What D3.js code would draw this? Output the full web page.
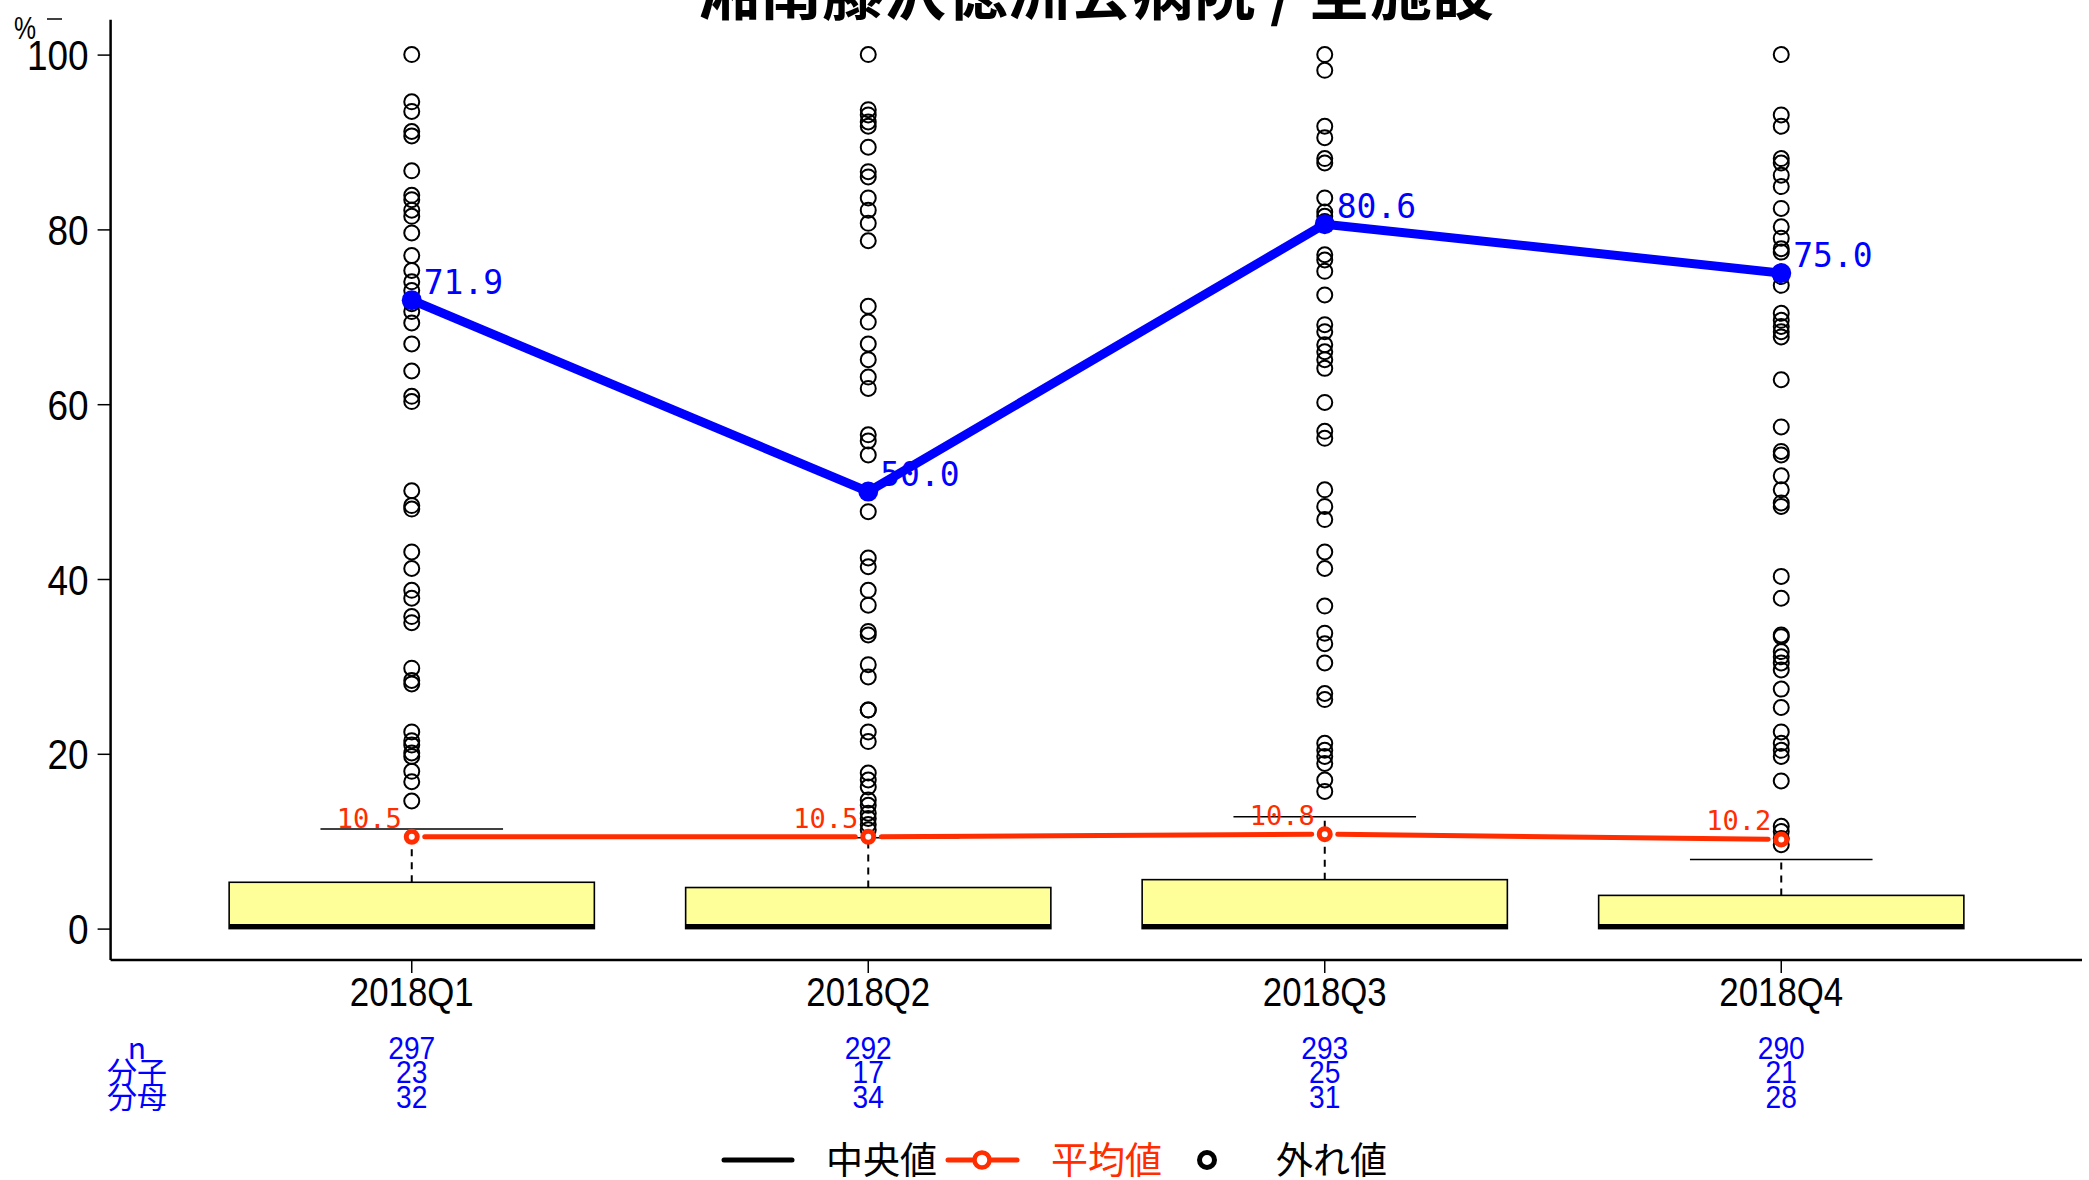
<!DOCTYPE html>
<html><head><meta charset="utf-8">
<script src="https://cdn.jsdelivr.net/npm/d3@7"></script>
<style>body{margin:0;background:#fff}svg{display:block}</style></head>
<body>
<script>
const titleText = "湘南藤沢徳洲会病院 / 全施設";
const categories = ["2018Q1", "2018Q2", "2018Q3", "2018Q4"];
const rateValues = [71.9, 50.0, 80.6, 75.0];
const meanValues = [10.5, 10.5, 10.8, 10.2];
const boxLower = [0, 0, 0, 0];
const boxMedian = [0, 0, 0, 0];
const boxUpper = [5.3, 4.7, 5.6, 3.8];
const whiskerHigh = [11.4, 10.4, 12.8, 7.9];
const outliersQ1 = [100, 94.6, 93.5, 91.2, 90.7, 86.7, 83.9, 83.4, 82.2, 81.5, 79.6, 77.0, 75.3, 74.0, 73.0, 71.5, 70.6, 69.3, 66.9, 63.8, 60.9, 60.3, 50.1, 48.4, 48.0, 43.1, 41.2, 38.7, 37.8, 35.7, 35.0, 29.8, 28.4, 28.0, 22.5, 21.5, 21.0, 20.1, 19.7, 18.0, 16.8, 14.6];
const outliersQ2 = [100, 93.7, 93.1, 92.3, 91.8, 89.4, 86.6, 86.0, 83.6, 82.2, 80.7, 78.7, 71.2, 69.4, 66.9, 65.1, 63.1, 61.8, 56.5, 55.8, 54.2, 47.7, 42.4, 41.4, 38.7, 37.0, 34.0, 33.6, 30.2, 28.8, 25.0, 25.0, 22.5, 21.4, 17.8, 17.0, 16.2, 14.7, 14.1, 13.2, 12.6, 11.9, 11.3];
const outliersQ3 = [100, 98.2, 91.8, 90.5, 88.1, 87.6, 83.6, 82.0, 81.5, 80.9, 77.1, 76.5, 75.2, 72.5, 69.1, 68.3, 66.8, 66.0, 65.1, 64.1, 60.2, 56.9, 56.1, 50.2, 48.3, 46.8, 43.1, 41.2, 36.9, 33.8, 32.6, 30.4, 26.9, 26.2, 21.2, 20.4, 19.7, 18.9, 17.0, 15.7];
const outliersQ4 = [100, 93.1, 91.8, 88.1, 87.6, 86.2, 84.9, 82.4, 80.3, 79.0, 77.8, 77.4, 74.6, 73.6, 70.4, 69.6, 68.9, 68.3, 67.7, 62.8, 57.4, 54.6, 54.2, 51.8, 50.2, 48.7, 48.3, 40.3, 37.8, 33.6, 33.4, 31.7, 31.1, 30.4, 29.6, 27.4, 25.3, 22.5, 21.2, 20.4, 19.7, 16.9, 11.7, 11.1, 10.3, 9.6];
const outlierSets = [outliersQ1, outliersQ2, outliersQ3, outliersQ4];
const nValues = [297, 292, 293, 290];
const numeratorValues = [23, 17, 25, 21];
const denominatorValues = [32, 34, 31, 28];
const rowLabels = ["n", "分子", "分母"];
const yTicks = [0, 20, 40, 60, 80, 100];
const legendLabels = ["中央値", "平均値", "外れ値"];

const W = 2089, H = 1180;
const BLUE = "#0000ff", RED = "#ff2d00", BOXFILL = "#ffff99";
const SANS = "'Liberation Sans'";
const svg = d3.select("body").append("svg").attr("width", W).attr("height", H);

const x = d3.scaleBand().domain(categories).range([183.5, 2009.5]);
const y = d3.scaleLinear().domain([0, 100]).range([928.6, 54.6]);
const cx = c => x(c) + x.bandwidth() / 2;
const boxW = x.bandwidth() * 0.8, capW = x.bandwidth() * 0.4;

// title
svg.append("text").attr("x", 1096).attr("y", 15).attr("text-anchor", "middle")
  .attr("font-family", "'Noto Sans CJK JP'").attr("font-weight", "bold").attr("font-size", 62)
  .text(titleText);

// axes lines
const axisTop = y(104), axisBottom = y(-3.6);
svg.append("line").attr("x1", 110.6).attr("x2", 110.6).attr("y1", axisTop).attr("y2", axisBottom)
  .attr("stroke", "#000").attr("stroke-width", 2.5);
svg.append("line").attr("x1", 110.6).attr("x2", 2082).attr("y1", axisBottom).attr("y2", axisBottom)
  .attr("stroke", "#000").attr("stroke-width", 2.5);

const yAxis = svg.append("g").attr("transform", "translate(110.6,0)")
  .call(d3.axisLeft(y).tickValues(yTicks).tickSize(13).tickPadding(10).tickFormat(d3.format("d")));
yAxis.select(".domain").remove();
yAxis.selectAll("line").attr("stroke-width", 1.5);
yAxis.selectAll("text").attr("font-family", SANS).attr("font-size", 42).attr("fill", "#000")
  .attr("x", 0).attr("dy", null).attr("dominant-baseline", null)
  .attr("transform", "translate(-22,15) scale(0.88,1)");

const xAxis = svg.append("g").attr("transform", `translate(0,${axisBottom})`)
  .call(d3.axisBottom(x).tickSize(13).tickPadding(8));
xAxis.select(".domain").remove();
xAxis.selectAll("line").attr("stroke-width", 1.5);
xAxis.selectAll("text").attr("font-family", SANS).attr("font-size", 40).attr("fill", "#000")
  .attr("y", 0).attr("dy", null)
  .attr("transform", "translate(0,46) scale(0.87,1)");

// "%" unit label
svg.append("text").attr("font-family", SANS).attr("font-size", 31)
  .attr("transform", "translate(14,39) scale(0.8,1)").text("%");
svg.append("line").attr("x1", 47).attr("x2", 62).attr("y1", 19).attr("y2", 19).attr("stroke", "#000").attr("stroke-width", 1.5);

// boxes
categories.forEach((c, i) => {
  const g = svg.append("g");
  g.append("line").attr("x1", cx(c)).attr("x2", cx(c)).attr("y1", y(boxUpper[i])).attr("y2", y(whiskerHigh[i]))
    .attr("stroke", "#000").attr("stroke-width", 2).attr("stroke-dasharray", "7,6");
  g.append("line").attr("x1", cx(c) - capW / 2).attr("x2", cx(c) + capW / 2).attr("y1", y(whiskerHigh[i])).attr("y2", y(whiskerHigh[i]))
    .attr("stroke", "#000").attr("stroke-width", 1.6);
  g.append("rect").attr("x", cx(c) - boxW / 2).attr("width", boxW)
    .attr("y", y(boxUpper[i])).attr("height", y(boxLower[i]) - y(boxUpper[i]))
    .attr("fill", BOXFILL).attr("stroke", "#000").attr("stroke-width", 1.6);
  g.append("line").attr("x1", cx(c) - boxW / 2).attr("x2", cx(c) + boxW / 2).attr("y1", y(boxMedian[i]) - 2).attr("y2", y(boxMedian[i]) - 2)
    .attr("stroke", "#000").attr("stroke-width", 5);
  g.selectAll("circle.out").data(outlierSets[i]).enter().append("circle")
    .attr("cx", cx(c)).attr("cy", d => y(d)).attr("r", 7.5)
    .attr("fill", "none").attr("stroke", "#000").attr("stroke-width", 2);
});

// red mean line (type "b": gaps around points)
const gap = 13;
for (let i = 0; i < categories.length - 1; i++) {
  const x1 = cx(categories[i]), y1 = y(meanValues[i]), x2 = cx(categories[i + 1]), y2 = y(meanValues[i + 1]);
  const len = Math.hypot(x2 - x1, y2 - y1), ux = (x2 - x1) / len, uy = (y2 - y1) / len;
  svg.append("line").attr("x1", x1 + ux * gap).attr("y1", y1 + uy * gap).attr("x2", x2 - ux * gap).attr("y2", y2 - uy * gap)
    .attr("stroke", RED).attr("stroke-width", 5).attr("stroke-linecap", "round");
}
svg.selectAll("circle.mean").data(meanValues).enter().append("circle")
  .attr("cx", (d, i) => cx(categories[i])).attr("cy", d => y(d)).attr("r", 5.5)
  .attr("fill", "#fff").attr("stroke", RED).attr("stroke-width", 5);
svg.selectAll("text.mean").data(meanValues).enter().append("text")
  .attr("x", (d, i) => cx(categories[i]) - 10).attr("y", d => y(d) - 9)
  .attr("text-anchor", "end").attr("font-family", "'DejaVu Sans Mono'").attr("font-size", 27).attr("fill", RED)
  .text(d => d.toFixed(1));

// blue rate line
svg.append("path").datum(rateValues)
  .attr("d", d3.line().x((d, i) => cx(categories[i])).y(d => y(d)))
  .attr("fill", "none").attr("stroke", BLUE).attr("stroke-width", 9).attr("stroke-linejoin", "round");
svg.selectAll("circle.rate").data(rateValues).enter().append("circle")
  .attr("cx", (d, i) => cx(categories[i])).attr("cy", d => y(d)).attr("r", 10).attr("fill", BLUE);
svg.selectAll("text.rate").data(rateValues).enter().append("text")
  .attr("x", (d, i) => cx(categories[i]) + 12).attr("y", d => y(d) - 6)
  .attr("font-family", "'DejaVu Sans Mono'").attr("font-size", 33).attr("fill", BLUE)
  .text(d => d.toFixed(1));

// bottom counts table
const rows = [nValues, numeratorValues, denominatorValues];
const rowY = [1059, 1083, 1108];
rows.forEach((vals, r) => {
  svg.append("text").attr("x", 137).attr("y", rowY[r]).attr("text-anchor", "middle")
    .attr("font-family", "'Noto Sans CJK JP'").attr("font-size", 30).attr("fill", BLUE).text(rowLabels[r]);
  vals.forEach((v, i) => {
    svg.append("text").attr("text-anchor", "middle")
      .attr("transform", `translate(${cx(categories[i])},${rowY[r]}) scale(0.88,1)`)
      .attr("font-family", SANS).attr("font-size", 32).attr("fill", BLUE).text(v);
  });
});

// legend
const ly = 1160;
svg.append("line").attr("x1", 724).attr("x2", 792).attr("y1", ly).attr("y2", ly).attr("stroke", "#000").attr("stroke-width", 5).attr("stroke-linecap", "round");
svg.append("text").attr("x", 826).attr("y", ly + 14).attr("font-family", "'Noto Sans CJK JP'").attr("font-size", 37).text(legendLabels[0]);
svg.append("line").attr("x1", 948).attr("x2", 1017).attr("y1", ly).attr("y2", ly).attr("stroke", RED).attr("stroke-width", 5).attr("stroke-linecap", "round");
svg.append("circle").attr("cx", 982).attr("cy", ly).attr("r", 7.5).attr("fill", "#fff").attr("stroke", RED).attr("stroke-width", 4.5);
svg.append("text").attr("x", 1051).attr("y", ly + 14).attr("font-family", "'Noto Sans CJK JP'").attr("font-size", 37).attr("fill", RED).text(legendLabels[1]);
svg.append("circle").attr("cx", 1207).attr("cy", ly).attr("r", 7.5).attr("fill", "none").attr("stroke", "#000").attr("stroke-width", 5);
svg.append("text").attr("x", 1276).attr("y", ly + 14).attr("font-family", "'Noto Sans CJK JP'").attr("font-size", 37).text(legendLabels[2]);
</script>
</body></html>
